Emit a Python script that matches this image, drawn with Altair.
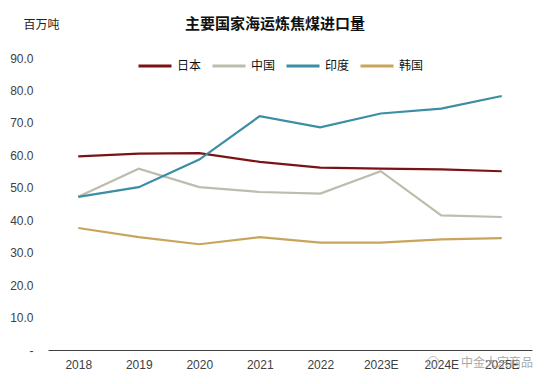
import altair as alt
import pandas as pd

years = ["2018", "2019", "2020", "2021", "2022", "2023E", "2024E", "2025E"]
countries = ["日本", "中国", "印度", "韩国"]
japan = [59.7, 60.5, 60.7, 58.0, 56.2, 55.9, 55.7, 55.1]
china = [47.2, 55.9, 50.2, 48.7, 48.2, 55.1, 41.5, 41.0]
india = [47.2, 50.2, 58.7, 72.1, 68.6, 72.9, 74.4, 78.3]
korea = [37.6, 34.8, 32.6, 34.8, 33.1, 33.1, 34.1, 34.5]
colors = ["#7B1315", "#BDBCAD", "#3B8EA3", "#C9A55C"]
y_ticks = [0, 10, 20, 30, 40, 50, 60, 70, 80, 90]
title_text = "主要国家海运炼焦煤进口量"
watermark_text = "中金大宗商品"

rows = []
for name, vals in zip(countries, [japan, china, india, korea]):
    for yr, v in zip(years, vals):
        rows.append({"year": yr, "country": name, "value": v})
df = pd.DataFrame(rows)

FONT = "Liberation Sans, Arial, Noto Sans CJK SC"
CJK = "Noto Sans CJK SC"

lines = alt.Chart(df).mark_line(strokeWidth=2.2).encode(
    x=alt.X("year:N", sort=years, scale=alt.Scale(type="point", padding=0.5),
            axis=alt.Axis(title=None, labelAngle=0, ticks=False, domain=True,
                          domainColor="#404040", domainWidth=1, labelPadding=9,
                          labelFontSize=12, labelColor="#404040", labelFont=FONT, grid=False)),
    y=alt.Y("value:Q", scale=alt.Scale(domain=[0, 90], nice=False, zero=True),
            axis=alt.Axis(values=y_ticks, title="百万吨", titleAngle=0, titleX=-25, titleY=-34,
                          titleAlign="left", titleBaseline="middle", titleFont=CJK,
                          titleFontSize=12, titleFontWeight="normal", titleColor="#222222",
                          domain=False, ticks=False, grid=False, labelAlign="right",
                          labelPadding=15, labelFontSize=12, labelColor="#404040", labelFont=FONT,
                          labelExpr="datum.value == 0 ? '-' : format(datum.value, '.1f')")),
    color=alt.Color("country:N", sort=countries,
                    scale=alt.Scale(domain=countries, range=colors),
                    legend=alt.Legend(title=None, orient="none", legendX=89, legendY=-10,
                                      direction="horizontal", symbolType="stroke",
                                      symbolSize=1089, symbolStrokeWidth=3, labelFont=CJK,
                                      labelFontSize=12, labelColor="#111111", labelOffset=4,
                                      columnPadding=4, padding=0)),
)

one = pd.DataFrame({"t": [title_text], "w": [watermark_text]})

title = alt.Chart(one).mark_text(
    font=CJK, fontSize=15, fontWeight="bold", color="#111111", align="center", baseline="middle"
).encode(text="t:N", x=alt.value(227), y=alt.value(-34))

watermark = alt.Chart(one).mark_text(
    font=CJK, fontSize=12, color="#9a9a9a", opacity=0.85, align="center", baseline="middle"
).encode(text="w:N", x=alt.value(449), y=alt.value(305))

wm_icon = alt.Chart(one).mark_point(
    shape="circle", size=120, color="#b0b0b0", strokeWidth=1, opacity=0.8
).encode(x=alt.value(385), y=alt.value(304))

chart = alt.layer(lines, wm_icon, watermark, title).properties(
    width=484, height=292,
    autosize="none",
    padding={"left": 40, "top": 50, "right": 10, "bottom": 30},
).configure_view(stroke=None)

chart.save("out.html", embed_options={"renderer": "svg", "actions": False})
